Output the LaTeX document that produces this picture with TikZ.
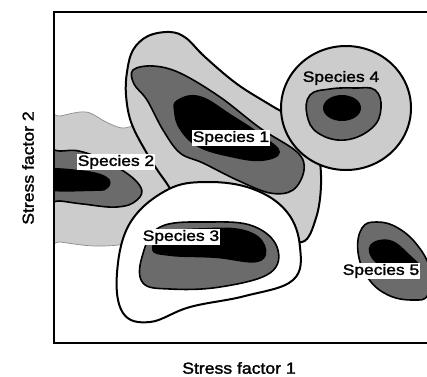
\documentclass[tikz,border=0pt]{standalone}
\usepackage{fontspec}
\newfontfamily\labfont[FakeStretch=1.16,FakeBold=1.8]{Liberation Sans}
\newfontfamily\axfont[FakeStretch=1.1,FakeBold=1.6]{Liberation Sans}
\begin{document}
\begin{tikzpicture}[x=1pt,y=-1pt,
  lightzone/.style={fill=black!20, draw=black, line width=2pt, line join=round},
  softzone/.style={fill=black!20, draw=black!45, line width=0.7pt},
  whitezone/.style={fill=white, draw=black, line width=2pt, line join=round},
  midzone/.style={fill=black!58, draw=black, line width=1.6pt, line join=round},
  corezone/.style={fill=black},
  lab/.style={font=\labfont\fontsize{15}{17}\selectfont, fill=white, inner sep=1.2pt},
  labclear/.style={font=\labfont\fontsize{15}{17}\selectfont, inner sep=1.2pt},
  axlab/.style={font=\axfont\fontsize{16}{18}\selectfont, inner sep=0pt}]
\useasboundingbox (0,0) rectangle (427,376);
\begin{scope}
\clip (0,0) rectangle (427,376);
\begin{scope}
\clip (54,12) rectangle (427,343);
% Species 2 outer
\draw[softzone] plot[smooth cycle, tension=0.6] coordinates {(40,120) (60,116) (86,112) (106,122) (122,128) (138,126) (152,136) (165,165) (175,200) (165,230) (130,243) (95,246) (60,242) (40,240)};
% Species 1 outer
\draw[lightzone] plot[smooth cycle, tension=0.6] coordinates {(127,72) (133,50) (148,36) (170,32) (186,38) (205,57) (237,84) (272,106) (305,126) (318,152) (321,185) (316,218) (302,242) (270,228) (225,205) (185,203) (163,178) (145,150) (131,122) (126,95)};
% Species 4 outer
\draw[lightzone] (346,108) ellipse [x radius=65, y radius=62];
% Species 3 outer
\draw[whitezone] plot[smooth cycle, tension=0.65] coordinates {(167,190) (207,182) (253,189) (287,212) (300,247) (293,280) (245,296) (190,307) (150,322) (123,313) (117,273) (130,223)};
% Species 2 inner
\draw[midzone] plot[smooth cycle, tension=0.7] coordinates {(40,152) (60,151) (83,152) (117,167) (140,186) (137,200) (117,207) (83,204) (60,201) (40,200)};
\fill[corezone] plot[smooth cycle, tension=0.7] coordinates {(40,170) (80,170) (107,177) (108,188) (93,191) (40,189)};
% Species 1 inner
\draw[midzone] plot[smooth cycle, tension=0.6] coordinates {(133,70) (153,66) (180,73) (220,97) (260,128) (297,152) (304,170) (293,190) (270,193) (237,180) (203,163) (180,153) (163,130) (147,100) (134,84)};
\fill[corezone] plot[smooth cycle, tension=0.7] coordinates {(177,100) (200,96) (232,115) (262,135) (280,152) (262,161) (230,157) (198,147) (180,130) (174,112)};
% Species 3 inner
\draw[midzone] plot[smooth cycle, tension=0.65] coordinates {(142,257) (160,227) (210,222) (253,226) (277,247) (270,273) (220,287) (170,289) (143,283)};
\fill[corezone] plot[smooth cycle, tension=0.7] coordinates {(152,250) (165,233) (205,228) (245,230) (265,245) (258,262) (215,258) (170,256)};
% Species 4 inner
\draw[midzone] plot[smooth cycle, tension=0.7] coordinates {(310,95) (330,89) (355,88) (375,90) (381,108) (372,128) (345,140) (318,133) (307,115)};
\fill[corezone] (342,108) ellipse [x radius=19, y radius=13];
% Species 5
\draw[midzone] plot[smooth cycle, tension=0.7] coordinates {(362,228) (377,222) (398,228) (418,246) (430,270) (428,295) (413,300) (388,295) (368,278) (358,252)};
\fill[corezone] plot[smooth cycle, tension=0.7] coordinates {(370,245) (390,240) (410,255) (420,268) (400,272) (375,262)};
\end{scope}
% Frame
\draw[line width=2pt] (440,12) -- (54,12) -- (54,343) -- (440,343);
\end{scope}
% Labels
\node[lab] (s1) at (231,138) {Species 1};
\node[lab] (s2) at (116,162) {Species 2};
\node[lab] (s3) at (181,237) {Species 3};
\node[labclear] (s4) at (341,78) {Species 4};
\node[lab] (s5) at (381,271) {Species 5};
\node[axlab] (ax1) at (239,368) {Stress factor 1};
\node[axlab, rotate=90] (ax2) at (28,168) {Stress factor 2};
\end{tikzpicture}
\end{document}
